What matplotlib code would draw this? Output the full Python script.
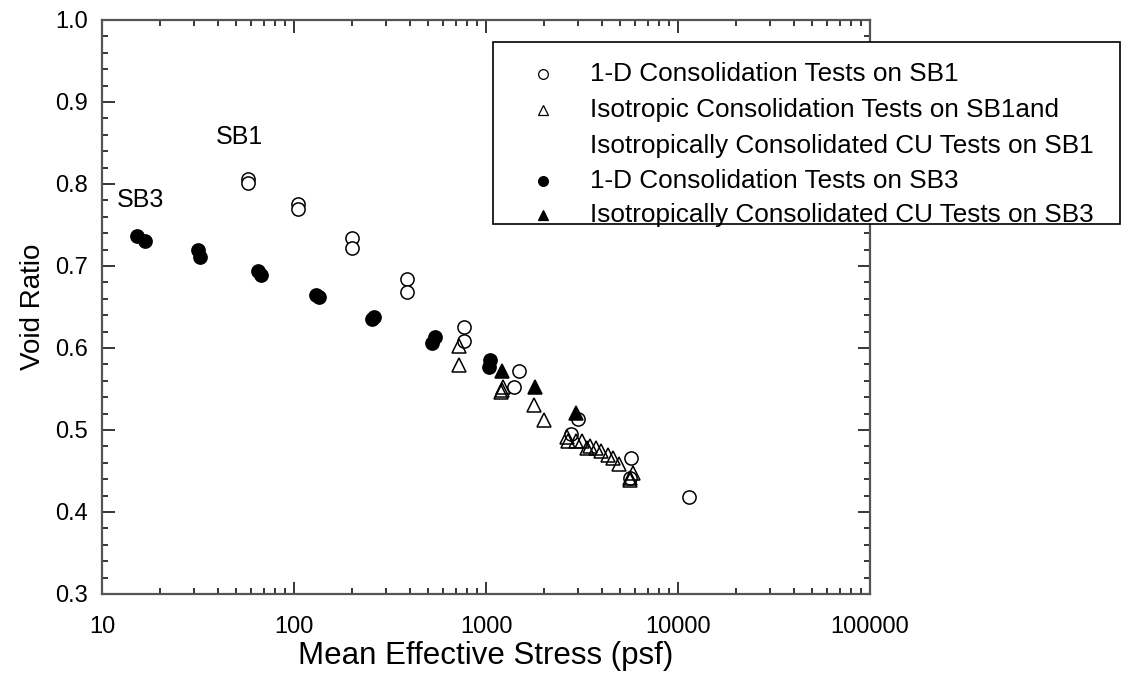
import matplotlib
matplotlib.use("Agg")
import matplotlib.pyplot as plt
from matplotlib.lines import Line2D
from matplotlib.patches import Rectangle
from matplotlib.ticker import MultipleLocator, LogLocator, NullFormatter, FixedFormatter, FixedLocator

plt.rcParams['font.family'] = ['Liberation Sans', 'DejaVu Sans']

# 1-D consolidation tests on SB1 (open circles)
sb1_1d_p = [57.8, 57.8, 104.5, 104.5, 201, 201, 389, 389, 767, 767,
            1491, 1400, 3006, 2760, 5675, 5623, 11460]
sb1_1d_e = [0.806, 0.801, 0.776, 0.770, 0.734, 0.722, 0.684, 0.668, 0.626, 0.608,
            0.572, 0.553, 0.513, 0.495, 0.466, 0.441, 0.418]

# isotropic consolidation / ICU tests on SB1 (open triangles)
sb1_iso_p = [726, 723, 1208, 1228, 1200, 1778, 2005, 2630, 2680, 2930, 3150,
             3350, 3480, 3720, 3980, 4300, 4560, 4930, 5850, 5620, 5650]
sb1_iso_e = [0.602, 0.579, 0.549, 0.552, 0.546, 0.531, 0.512, 0.492, 0.487, 0.486, 0.486,
             0.478, 0.480, 0.478, 0.474, 0.470, 0.466, 0.459, 0.447, 0.441, 0.439]

# 1-D consolidation tests on SB3 (filled circles)
sb3_1d_p = [15.3, 16.7, 31.7, 32.4, 64.7, 67.1, 130, 135, 255, 262, 525, 540, 1035, 1050]
sb3_1d_e = [0.736, 0.730, 0.720, 0.711, 0.694, 0.689, 0.665, 0.662, 0.635, 0.638,
            0.606, 0.613, 0.577, 0.585]

# ICU tests on SB3 (filled triangles)
sb3_icu_p = [1208, 1800, 2944]
sb3_icu_e = [0.572, 0.552, 0.521]

legend_labels = [
    '1-D Consolidation Tests on SB1',
    'Isotropic Consolidation Tests on SB1and',
    'Isotropically Consolidated CU Tests on SB1',
    '1-D Consolidation Tests on SB3',
    'Isotropically Consolidated CU Tests on SB3',
]
legend_markers = ['o', '^', None, 'o', '^']
legend_fills = ['white', 'white', None, 'black', 'black']

W, H = 1125, 674
fig = plt.figure(figsize=(W / 100, H / 100), dpi=100)
ax = fig.add_axes([102/W, 1-594/H, 768/W, 574/H])

ms = 9.5
mew = 1.1
ax.plot(sb1_1d_p, sb1_1d_e, 'o', ms=ms, mfc='white', mec='black', mew=mew, zorder=3)
ax.plot(sb1_iso_p, sb1_iso_e, '^', ms=ms, mfc='none', mec='black', mew=mew, zorder=4)
ax.plot(sb3_1d_p, sb3_1d_e, 'o', ms=ms, mfc='black', mec='black', mew=mew, zorder=3)
ax.plot(sb3_icu_p, sb3_icu_e, '^', ms=ms, mfc='black', mec='black', mew=mew, zorder=4)

ax.text(52, 0.857, 'SB1', fontsize=18, ha='center', va='center')
ax.text(15.8, 0.78, 'SB3', fontsize=18, ha='center', va='center')

ax.set_xscale('log')
ax.set_xlim(10, 100000)
ax.set_ylim(0.3, 1.0)
ax.xaxis.set_major_locator(FixedLocator([10, 100, 1000, 10000, 100000]))
ax.xaxis.set_major_formatter(FixedFormatter(['10', '100', '1000', '10000', '100000']))
ax.xaxis.set_minor_locator(LogLocator(base=10, subs=range(2, 10)))
ax.xaxis.set_minor_formatter(NullFormatter())
ax.yaxis.set_major_locator(MultipleLocator(0.1))
ax.yaxis.set_minor_locator(MultipleLocator(0.02))
ax.yaxis.set_major_formatter(plt.FuncFormatter(lambda v, p: f'{v:.1f}'))

ax.tick_params(which='both', direction='in', top=True, right=True, labelsize=17, color='black')
ax.tick_params(which='major', length=9, width=1.1)
ax.tick_params(which='minor', length=4.5, width=1.1)
ax.tick_params(axis='x', which='major', pad=16)
ax.tick_params(axis='y', which='major', pad=10)
for s in ax.spines.values():
    s.set_linewidth(1.6)
    s.set_color('#555555')

ax.set_xlabel('Mean Effective Stress (psf)', fontsize=22.5, labelpad=2)
ax.set_ylabel('Void Ratio', fontsize=20, labelpad=7)

# legend box drawn in figure pixels, partly outside the axes
fig.add_artist(Rectangle((493/W, 1-224/H), 627/W, 182/H, transform=fig.transFigure,
                         fill=True, facecolor='white', edgecolor='black', lw=1.2, zorder=5))
row_y = [74, 110, 146, 181, 215]
for lab, mk, fc, yy in zip(legend_labels, legend_markers, legend_fills, row_y):
    if mk is not None:
        fig.add_artist(Line2D([543/W], [1-yy/H], transform=fig.transFigure, ls='none',
                              marker=mk, ms=7, mfc=fc, mec='black', mew=0.9, zorder=6))
    fig.text(590/W, 1-yy/H, lab, fontsize=18.8, ha='left', va='center', zorder=6)

fig.savefig('out.png', dpi=100)
